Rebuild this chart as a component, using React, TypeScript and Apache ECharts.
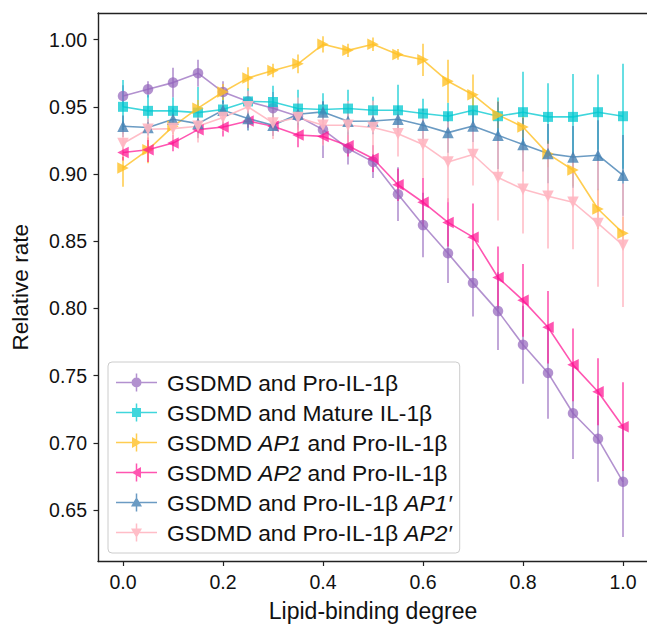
import React, { useEffect, useRef } from "react";
import * as echarts from "echarts";

// ---------- data ----------
const lipidDegree = [0.0, 0.05, 0.1, 0.15, 0.2, 0.25, 0.3, 0.35, 0.4, 0.45, 0.5, 0.55, 0.6, 0.65, 0.7, 0.75, 0.8, 0.85, 0.9, 0.95, 1.0];

const seriesNames = [
  "GSDMD and Pro-IL-1β",
  "GSDMD and Mature IL-1β",
  "GSDMD AP1 and Pro-IL-1β",
  "GSDMD AP2 and Pro-IL-1β",
  "GSDMD and Pro-IL-1β AP1′",
  "GSDMD and Pro-IL-1β AP2′",
];

const proIL1b = [0.958, 0.963, 0.968, 0.975, 0.961, 0.954, 0.949, 0.943, 0.933, 0.919, 0.909, 0.885, 0.862, 0.841, 0.819, 0.798, 0.773, 0.752, 0.722, 0.703, 0.671];
const proIL1bErr = [0.008, 0.006, 0.011, 0.01, 0.008, 0.008, 0.012, 0.01, 0.021, 0.012, 0.012, 0.02, 0.024, 0.022, 0.025, 0.029, 0.029, 0.034, 0.034, 0.032, 0.041];

const matureIL1b = [0.95, 0.947, 0.947, 0.9457, 0.948, 0.954, 0.9536, 0.9487, 0.948, 0.9487, 0.9474, 0.9474, 0.945, 0.943, 0.9474, 0.943, 0.946, 0.9425, 0.9425, 0.946, 0.943];
const matureIL1bErr = [0.02, 0.012, 0.01, 0.019, 0.012, 0.01, 0.012, 0.014, 0.012, 0.014, 0.01, 0.019, 0.011, 0.01, 0.012, 0.014, 0.03, 0.025, 0.032, 0.028, 0.039];

const ap1Pro = [0.9045, 0.918, 0.9355, 0.949, 0.961, 0.9715, 0.977, 0.982, 0.9965, 0.992, 0.9965, 0.989, 0.985, 0.969, 0.959, 0.944, 0.935, 0.915, 0.903, 0.874, 0.856];
const ap1ProErr = [0.014, 0.01, 0.006, 0.006, 0.006, 0.008, 0.005, 0.007, 0.006, 0.005, 0.005, 0.004, 0.012, 0.016, 0.015, 0.01, 0.008, 0.01, 0.012, 0.015, 0.012];

const ap2Pro = [0.916, 0.918, 0.923, 0.933, 0.935, 0.9395, 0.9355, 0.929, 0.928, 0.921, 0.9115, 0.892, 0.879, 0.864, 0.853, 0.823, 0.806, 0.786, 0.758, 0.738, 0.712];
const ap2ProErr = [0.006, 0.009, 0.006, 0.006, 0.007, 0.005, 0.007, 0.009, 0.006, 0.008, 0.01, 0.012, 0.018, 0.018, 0.025, 0.023, 0.027, 0.027, 0.027, 0.025, 0.033];

const proAP1p = [0.9355, 0.9346, 0.9407, 0.9375, 0.9474, 0.9413, 0.9363, 0.9445, 0.9462, 0.9393, 0.9395, 0.9407, 0.9363, 0.9308, 0.9358, 0.9288, 0.9219, 0.9152, 0.9127, 0.914, 0.899];
const proAP1pErr = [0.008, 0.006, 0.008, 0.008, 0.007, 0.009, 0.008, 0.008, 0.008, 0.01, 0.01, 0.01, 0.012, 0.015, 0.012, 0.025, 0.02, 0.022, 0.023, 0.026, 0.03];

const proAP2p = [0.9227, 0.9333, 0.9338, 0.9355, 0.942, 0.95, 0.938, 0.942, 0.9363, 0.9363, 0.9346, 0.93, 0.922, 0.909, 0.9145, 0.8974, 0.8887, 0.8835, 0.879, 0.8632, 0.847];
const proAP2pErr = [0.01, 0.008, 0.01, 0.012, 0.01, 0.012, 0.012, 0.015, 0.015, 0.018, 0.02, 0.017, 0.025, 0.03, 0.023, 0.032, 0.033, 0.039, 0.035, 0.047, 0.046];

const yTicks = [0.65, 0.7, 0.75, 0.8, 0.85, 0.9, 0.95, 1.0];
const xTicks = [0.0, 0.2, 0.4, 0.6, 0.8, 1.0];

const xAxisTitle = "Lipid-binding degree";
const yAxisTitle = "Relative rate";

// ---------- styles ----------
const FONT = "'Liberation Sans', Arial, Helvetica, sans-serif";
const colors = [
  "rgba(148,103,189,0.72)",
  "rgba(0,200,208,0.75)",
  "rgba(255,193,37,0.8)",
  "rgba(255,20,147,0.72)",
  "rgba(70,130,180,0.8)",
  "rgba(255,182,193,0.9)",
];
const symbols = ["circle", "rect", "triangle", "triangle", "triangle", "triangle"];
const rotations = [0, 0, -90, 90, 0, 180];
const sizes = [10.5, 10, 11.5, 11.5, 11.5, 11.5];

const LINES = "M0 8.25H41V9.75H0Z M19.75 0H21.25V18H19.75Z ";
const legendIcons = [
  "path://" + LINES + "M15.5 9A5 5 0 1 1 25.5 9A5 5 0 1 1 15.5 9Z",
  "path://" + LINES + "M16 4.5H25V13.5H16Z",
  "path://" + LINES + "M16 3.5L25.5 9L16 14.5Z",
  "path://" + LINES + "M25 3.5L25 14.5L15.5 9Z",
  "path://" + LINES + "M20.5 3.5L26 13L15 13Z",
  "path://" + LINES + "M15 5L26 5L20.5 14.5Z",
];

const SPINE = { color: "#222", width: 1.4 };

export default function App() {
  const ref = useRef<HTMLDivElement>(null);

  useEffect(() => {
    if (!ref.current) return;
    const chart = echarts.init(ref.current, null, { renderer: "svg" });

    const values = [proIL1b, matureIL1b, ap1Pro, ap2Pro, proAP1p, proAP2p];
    const errs = [proIL1bErr, matureIL1bErr, ap1ProErr, ap2ProErr, proAP1pErr, proAP2pErr];

    const series: any[] = [];
    values.forEach((vals, k) => {
      series.push({
        type: "custom",
        name: "err" + k,
        data: lipidDegree.map((x, i) => [x, vals[i], errs[k][i]]),
        encode: { x: 0, y: 1 },
        silent: true,
        renderItem: (params: any, api: any) => {
          const x = api.value(0);
          const y = api.value(1);
          const e = api.value(2);
          const p1 = api.coord([x, y - e]);
          const p2 = api.coord([x, y + e]);
          return {
            type: "line",
            shape: { x1: p1[0], y1: p1[1], x2: p2[0], y2: p2[1] },
            style: { stroke: colors[k], lineWidth: 1.6 },
          };
        },
      });
      series.push({
        type: "line",
        name: seriesNames[k],
        data: lipidDegree.map((x, i) => [x, vals[i]]),
        symbol: symbols[k],
        symbolSize: sizes[k],
        symbolRotate: rotations[k],
        showAllSymbol: true,
        itemStyle: { color: colors[k], borderWidth: 0 },
        lineStyle: { color: colors[k], width: 1.6 },
        emphasis: { disabled: true },
      });
    });

    const option: any = {
      animation: false,
      textStyle: { fontFamily: FONT },
      grid: {
        left: 98,
        top: 13,
        width: 550,
        height: 548.5,
        show: false,
        containLabel: false,
        outerBoundsMode: "none",
      },
      xAxis: [
        {
          type: "value",
          position: "bottom",
          min: -0.05,
          max: 1.05,
          name: xAxisTitle,
          nameLocation: "middle",
          nameGap: 38,
          nameTextStyle: { fontSize: 23, color: "#111", fontFamily: FONT },
          axisLine: { show: true, onZero: false, lineStyle: SPINE },
          axisTick: { show: true, length: 4.5, lineStyle: { color: "#222", width: 1.2 }, customValues: xTicks },
          axisLabel: {
            customValues: xTicks,
            margin: 10,
            fontSize: 19.5,
            color: "#111",
            fontFamily: FONT,
            formatter: (v: number) => v.toFixed(1),
          },
          splitLine: { show: false },
        },
        {
          type: "value",
          position: "top",
          min: -0.05,
          max: 1.05,
          axisLine: { show: true, onZero: false, lineStyle: SPINE },
          axisTick: { show: false },
          axisLabel: { show: false },
          splitLine: { show: false },
        },
      ],
      yAxis: {
        type: "value",
        min: 0.6117,
        max: 1.0198,
        name: yAxisTitle,
        nameLocation: "middle",
        nameGap: 66,
        nameRotate: 90,
        nameTextStyle: { fontSize: 22.5, color: "#111", fontFamily: FONT },
        axisLine: { show: true, onZero: false, lineStyle: SPINE },
        axisTick: { show: true, length: 4.5, lineStyle: { color: "#222", width: 1.2 }, customValues: yTicks },
        axisLabel: {
          customValues: yTicks,
          margin: 11,
          fontSize: 19.5,
          color: "#111",
          fontFamily: FONT,
          formatter: (v: number) => v.toFixed(2),
        },
        splitLine: { show: false },
      },
      legend: {
        orient: "vertical",
        left: 108,
        top: 362,
        padding: [9, 8, 9, 8],
        itemGap: 7,
        itemWidth: 41,
        itemHeight: 18,
        backgroundColor: "rgba(255,255,255,0.8)",
        borderColor: "#cccccc",
        borderWidth: 1,
        borderRadius: 4,
        selectedMode: false,
        data: seriesNames.map((n, k) => ({ name: n, icon: legendIcons[k], itemStyle: { color: colors[k] } })),
        formatter: (name: string) => name.replace(/(AP[12]′?)/g, "{i|$1}"),
        textStyle: {
          fontSize: 22.8,
          lineHeight: 22,
          color: "#111",
          fontFamily: FONT,
          padding: [0, 0, 0, 5],
          rich: {
            i: { fontSize: 22.8, lineHeight: 22, fontStyle: "italic", color: "#111", fontFamily: FONT },
          },
        },
      },
      series,
    };

    chart.setOption(option);
    return () => chart.dispose();
  }, []);

  return (
    <div
      ref={ref}
      style={{ position: "absolute", left: 0, top: 0, width: 647, height: 625, background: "#fff" }}
    />
  );
}
